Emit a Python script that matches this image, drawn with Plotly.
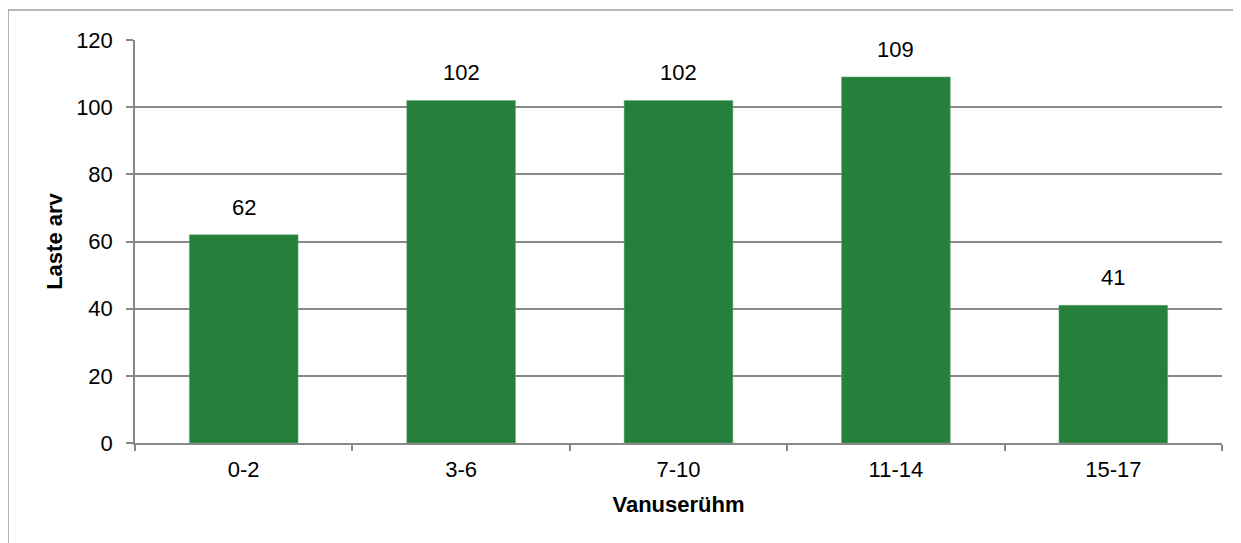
import plotly.graph_objects as go

# Age groups and number of children
age_groups = ["0-2", "3-6", "7-10", "11-14", "15-17"]
children = [62, 102, 102, 109, 41]

fig = go.Figure()

fig.add_trace(
    go.Bar(
        x=age_groups,
        y=children,
        marker=dict(color="#26803c", line=dict(color="#5fa872", width=0.5)),
        width=0.5,
        hoverinfo="x+y",
    )
)

# value labels above the bars
for cat, val in zip(age_groups, children):
    fig.add_annotation(
        x=cat, y=val, text=str(val),
        showarrow=False, yanchor="bottom", yshift=13,
        font=dict(size=22, color="#000000"),
    )

# thin grey frame around the chart
fig.add_shape(
    type="rect", xref="paper", yref="paper",
    x0=-0.1168, x1=1.03, y0=-0.28, y1=1.0744,
    line=dict(color="#a0a0a0", width=1.5),
    fillcolor="rgba(0,0,0,0)", layer="below",
)

# page body has an 8px margin, compensate so the plot area sits at 135..1222 x 40..443
fig.update_layout(
    width=1241,
    height=543,
    margin=dict(l=127, r=27, t=32, b=108),
    paper_bgcolor="white",
    plot_bgcolor="white",
    showlegend=False,
    font=dict(family="Liberation Sans, Arial, sans-serif", size=22, color="#000000"),
)

fig.update_xaxes(
    title=dict(text="<b>Vanuserühm</b>", font=dict(size=22), standoff=15),
    showline=True, linecolor="#888888", linewidth=1.5,
    ticks="outside", tickson="boundaries", ticklen=6,
    tickcolor="#888888", tickwidth=1.5,
    ticklabelstandoff=6,
    showgrid=False,
)

fig.update_yaxes(
    title=dict(text="<b>Laste arv</b>", font=dict(size=22), standoff=7),
    range=[0, 120], dtick=20,
    showline=True, linecolor="#888888", linewidth=1.5,
    ticks="outside", ticklen=7, tickcolor="#888888", tickwidth=1.5,
    ticklabelstandoff=9,
    showgrid=True, gridcolor="#888888", gridwidth=1.5,
    zeroline=False,
)

fig.write_html("out.html")
